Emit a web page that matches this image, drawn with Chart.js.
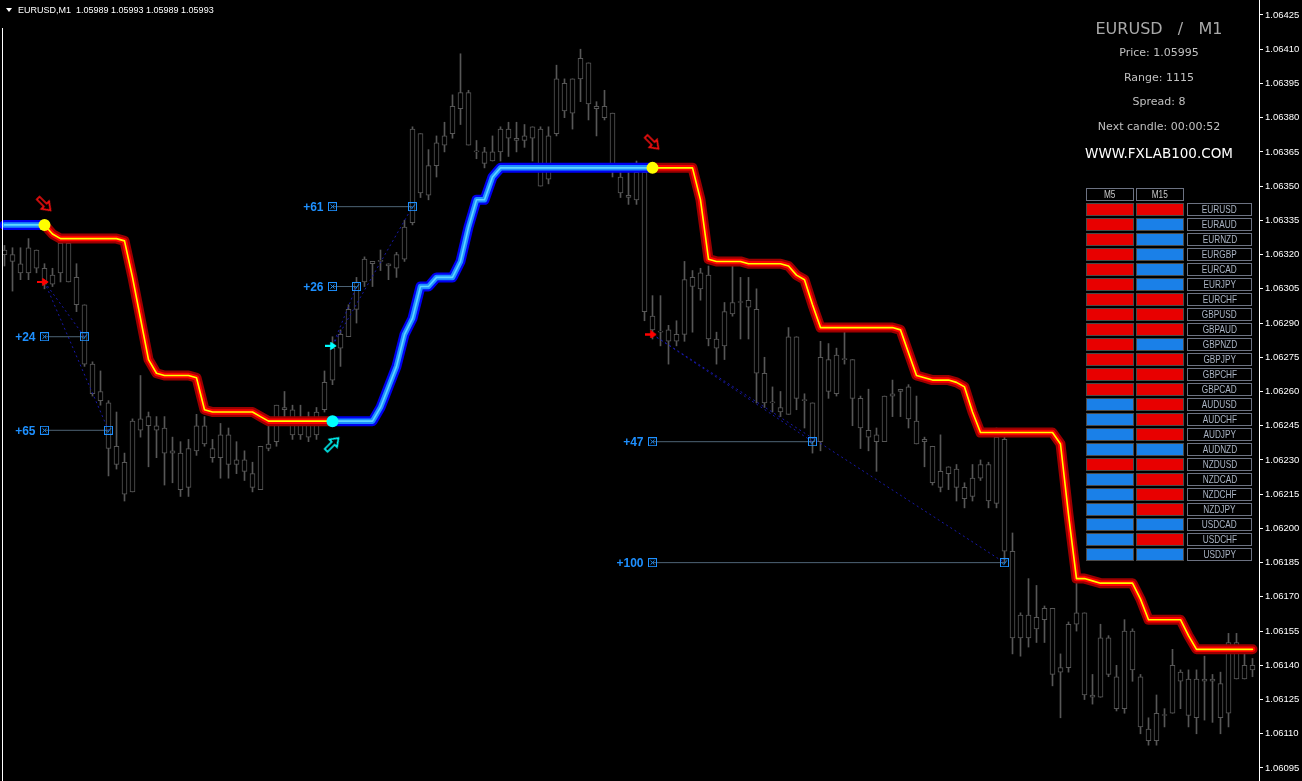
<!DOCTYPE html>
<html>
<head>
<meta charset="utf-8">
<title>EURUSD M1</title>
<script src="https://cdn.jsdelivr.net/npm/chart.js@4/dist/chart.umd.min.js"></script>
<style>
  html, body { margin: 0; padding: 0; background: #000; }
  #wrap { position: relative; width: 1302px; height: 781px; overflow: hidden; background: #000; }
  #chart { position: absolute; left: 0; top: 0; background: #000; }
  .abs { position: absolute; white-space: pre; }
  #hdr { left: 18px; top: 4px; font: 9px "Liberation Sans", Arial, sans-serif; color: #fff; line-height: 12px; }
  #tri { left: 6px; top: 8px; width: 0; height: 0; border-left: 3px solid transparent; border-right: 3px solid transparent; border-top: 4px solid #fff; }
  #leftEdge { left: 2px; top: 28px; width: 1px; height: 753px; background: #fff; }
  .info { left: 1059px; width: 200px; text-align: center; font-family: "DejaVu Sans", sans-serif; }
  .cell { position: absolute; box-sizing: border-box; height: 13px; }
  .lab { border: 1px solid #6c7282; background: #000; color: #aab4c4; text-align: center; overflow: hidden; line-height: 11px; }
  .lab span { display: inline-block; vertical-align: top; }
</style>
</head>
<body>
<div id="wrap">
  <canvas id="chart" width="1302" height="781"></canvas>
  <div id="tri" class="abs"></div>
  <div id="hdr" class="abs">EURUSD,M1  1.05989 1.05993 1.05989 1.05993</div>
  <div id="leftEdge" class="abs"></div>
  <div class="abs info" style="top:19px;font-size:16px;line-height:20px;color:#a9a9a9;">EURUSD   /   M1</div>
  <div class="abs info" style="top:46px;font-size:11px;line-height:14px;color:#c0c0c0;">Price: 1.05995</div>
  <div class="abs info" style="top:71px;font-size:11px;line-height:14px;color:#c0c0c0;">Range: 1115</div>
  <div class="abs info" style="top:95px;font-size:11px;line-height:14px;color:#c0c0c0;">Spread: 8</div>
  <div class="abs info" style="top:120px;font-size:11px;line-height:14px;color:#c0c0c0;">Next candle: 00:00:52</div>
  <div class="abs info" style="top:145px;font-size:13.5px;line-height:16px;color:#ffffff;">WWW.FXLAB100.COM</div>
  <div id="table"></div>
</div>
<script>
// price ticks on the right axis
const priceTicks = [1.06095, 1.06110, 1.06125, 1.06140, 1.06155, 1.06170, 1.06185, 1.06200, 1.06215,
  1.06230, 1.06245, 1.06260, 1.06275, 1.06290, 1.06305, 1.06320, 1.06335, 1.06350, 1.06365,
  1.06380, 1.06395, 1.06410, 1.06425];

// M1 candles, oldest first
const opens = [1.06322,1.06317,1.06316,1.06312,1.06322,1.06314,1.06307,1.06312,1.06325,1.06310,
  1.06298,1.06272,1.06260,1.06255,1.06228,1.06229,1.06216,1.06248,1.06245,1.06245,
  1.06244,1.06233,1.06233,1.06218,1.06234,1.06245,1.06235,1.06231,1.06241,1.06228,
  1.06230,1.06224,1.06217,1.06235,1.06238,1.06253,1.06252,1.06241,1.06248,1.06241,
  1.06252,1.06265,1.06279,1.06284,1.06296,1.06308,1.06317,1.06317,1.06316,1.06314,
  1.06318,1.06334,1.06373,1.06346,1.06359,1.06368,1.06373,1.06384,1.06391,1.06365,
  1.06365,1.06361,1.06365,1.06375,1.06371,1.06370,1.06371,1.06375,1.06353,1.06373,
  1.06395,1.06382,1.06397,1.06404,1.06385,1.06380,1.06382,1.06354,1.06346,1.06344,
  1.06356,1.06293,1.06286,1.06282,1.06285,1.06285,1.06306,1.06312,1.06311,1.06283,
  1.06280,1.06294,1.06299,1.06297,1.06296,1.06268,1.06255,1.06253,1.06250,1.06284,
  1.06256,1.06255,1.06238,1.06274,1.06259,1.06274,1.06274,1.06257,1.06243,1.06241,
  1.06238,1.06258,1.06260,1.06262,1.06247,1.06238,1.06236,1.06218,1.06224,1.06226,
  1.06218,1.06214,1.06222,1.06228,1.06211,1.06239,1.06190,1.06152,1.06162,1.06156,
  1.06160,1.06165,1.06137,1.06139,1.06158,1.06163,1.06127,1.06126,1.06152,1.06135,
  1.06121,1.06155,1.06135,1.06112,1.06107,1.06118,1.06119,1.06137,1.06134,1.06117,
  1.06134,1.06133,1.06132,1.06119,1.06150,1.06134,1.06140];
const highs = [1.06324,1.06323,1.06323,1.06327,1.06322,1.06316,1.06314,1.06326,1.06326,1.06316,
  1.06298,1.06273,1.06269,1.06256,1.06251,1.06233,1.06248,1.06267,1.06251,1.06249,
  1.06249,1.06240,1.06238,1.06239,1.06250,1.06249,1.06239,1.06246,1.06244,1.06238,
  1.06234,1.06229,1.06236,1.06245,1.06254,1.06260,1.06254,1.06254,1.06251,1.06253,
  1.06269,1.06284,1.06287,1.06298,1.06310,1.06319,1.06317,1.06322,1.06316,1.06321,
  1.06335,1.06376,1.06373,1.06366,1.06372,1.06378,1.06390,1.06408,1.06392,1.06370,
  1.06367,1.06372,1.06376,1.06378,1.06378,1.06377,1.06376,1.06376,1.06376,1.06403,
  1.06397,1.06397,1.06410,1.06404,1.06387,1.06392,1.06382,1.06356,1.06356,1.06361,
  1.06356,1.06302,1.06302,1.06289,1.06291,1.06317,1.06313,1.06314,1.06315,1.06286,
  1.06299,1.06315,1.06310,1.06310,1.06305,1.06275,1.06262,1.06260,1.06288,1.06284,
  1.06259,1.06255,1.06282,1.06281,1.06279,1.06286,1.06274,1.06258,1.06261,1.06244,
  1.06258,1.06265,1.06261,1.06263,1.06258,1.06240,1.06236,1.06241,1.06227,1.06228,
  1.06220,1.06228,1.06230,1.06229,1.06244,1.06243,1.06198,1.06163,1.06178,1.06175,
  1.06166,1.06165,1.06145,1.06159,1.06176,1.06163,1.06136,1.06158,1.06153,1.06140,
  1.06160,1.06156,1.06136,1.06117,1.06127,1.06121,1.06147,1.06138,1.06138,1.06138,
  1.06144,1.06136,1.06137,1.06154,1.06154,1.06145,1.06143];
const lows = [1.06315,1.06304,1.06309,1.06309,1.06312,1.06305,1.06306,1.06308,1.06308,1.06295,
  1.06271,1.06258,1.06254,1.06223,1.06226,1.06212,1.06216,1.06240,1.06227,1.06231,
  1.06219,1.06220,1.06214,1.06214,1.06232,1.06236,1.06229,1.06222,1.06222,1.06224,
  1.06221,1.06216,1.06217,1.06234,1.06236,1.06247,1.06239,1.06239,1.06238,1.06239,
  1.06251,1.06263,1.06271,1.06284,1.06290,1.06306,1.06306,1.06313,1.06309,1.06310,
  1.06317,1.06333,1.06345,1.06344,1.06354,1.06365,1.06371,1.06377,1.06368,1.06362,
  1.06358,1.06361,1.06361,1.06363,1.06365,1.06367,1.06361,1.06350,1.06351,1.06372,
  1.06380,1.06375,1.06387,1.06379,1.06372,1.06379,1.06354,1.06345,1.06342,1.06342,
  1.06291,1.06283,1.06280,1.06272,1.06280,1.06282,1.06286,1.06300,1.06280,1.06272,
  1.06274,1.06293,1.06283,1.06283,1.06255,1.06253,1.06251,1.06249,1.06250,1.06252,
  1.06244,1.06233,1.06234,1.06257,1.06258,1.06272,1.06245,1.06235,1.06234,1.06225,
  1.06238,1.06249,1.06249,1.06244,1.06237,1.06227,1.06219,1.06216,1.06217,1.06212,
  1.06209,1.06212,1.06221,1.06209,1.06209,1.06185,1.06145,1.06144,1.06148,1.06150,
  1.06150,1.06131,1.06117,1.06137,1.06155,1.06125,1.06123,1.06126,1.06135,1.06120,
  1.06119,1.06133,1.06110,1.06105,1.06105,1.06113,1.06119,1.06121,1.06113,1.06110,
  1.06116,1.06115,1.06110,1.06113,1.06134,1.06134,1.06135];
const closes = [1.06320,1.06320,1.06312,1.06323,1.06314,1.06307,1.06311,1.06325,1.06308,1.06298,
  1.06272,1.06259,1.06256,1.06235,1.06236,1.06215,1.06247,1.06243,1.06249,1.06243,
  1.06233,1.06234,1.06217,1.06235,1.06245,1.06237,1.06231,1.06241,1.06228,1.06230,
  1.06225,1.06218,1.06236,1.06237,1.06254,1.06252,1.06241,1.06248,1.06240,1.06251,
  1.06264,1.06279,1.06285,1.06296,1.06308,1.06318,1.06316,1.06317,1.06315,1.06320,
  1.06332,1.06375,1.06347,1.06359,1.06369,1.06372,1.06385,1.06391,1.06368,1.06365,
  1.06360,1.06365,1.06375,1.06371,1.06370,1.06372,1.06376,1.06350,1.06372,1.06397,
  1.06383,1.06397,1.06406,1.06386,1.06384,1.06385,1.06359,1.06347,1.06345,1.06356,
  1.06295,1.06287,1.06286,1.06287,1.06282,1.06309,1.06310,1.06305,1.06283,1.06279,
  1.06295,1.06299,1.06299,1.06300,1.06268,1.06255,1.06255,1.06251,1.06284,1.06257,
  1.06256,1.06238,1.06275,1.06260,1.06276,1.06274,1.06257,1.06244,1.06240,1.06238,
  1.06258,1.06259,1.06261,1.06248,1.06237,1.06239,1.06220,1.06225,1.06227,1.06218,
  1.06213,1.06222,1.06228,1.06212,1.06240,1.06190,1.06152,1.06162,1.06152,1.06161,
  1.06165,1.06136,1.06139,1.06158,1.06163,1.06127,1.06126,1.06152,1.06136,1.06121,
  1.06155,1.06138,1.06113,1.06107,1.06119,1.06118,1.06140,1.06133,1.06118,1.06134,
  1.06133,1.06134,1.06117,1.06150,1.06134,1.06140,1.06138];

// trend line (blue = up, red = down)
const trendLine = [1.06333,1.06333,1.06333,1.06333,1.06333,1.06333,1.06329,1.06327,1.06327,1.06327,
  1.06327,1.06327,1.06327,1.06327,1.06327,1.06326,1.06310,1.06292,1.06274,1.06268,
  1.06267,1.06267,1.06267,1.06267,1.06266,1.06252,1.06251,1.06251,1.06251,1.06251,
  1.06251,1.06251,1.06249,1.06247,1.06247,1.06247,1.06247,1.06247,1.06247,1.06247,
  1.06247,1.06247,1.06247,1.06247,1.06247,1.06247,1.06247,1.06253,1.06262,1.06271,
  1.06285,1.06292,1.06306,1.06306,1.06310,1.06310,1.06310,1.06317,1.06332,1.06344,
  1.06344,1.06354,1.06358,1.06358,1.06358,1.06358,1.06358,1.06358,1.06358,1.06358,
  1.06358,1.06358,1.06358,1.06358,1.06358,1.06358,1.06358,1.06358,1.06358,1.06358,
  1.06358,1.06358,1.06358,1.06358,1.06358,1.06358,1.06358,1.06344,1.06318,1.06317,
  1.06317,1.06317,1.06317,1.06316,1.06316,1.06316,1.06316,1.06316,1.06315,1.06311,
  1.06309,1.06298,1.06288,1.06288,1.06288,1.06288,1.06288,1.06288,1.06288,1.06288,
  1.06288,1.06288,1.06287,1.06277,1.06267,1.06266,1.06265,1.06265,1.06265,1.06264,
  1.06262,1.06251,1.06242,1.06242,1.06242,1.06242,1.06242,1.06242,1.06242,1.06242,
  1.06242,1.06242,1.06237,1.06206,1.06178,1.06178,1.06177,1.06176,1.06176,1.06176,
  1.06176,1.06176,1.06169,1.06160,1.06160,1.06160,1.06160,1.06160,1.06153,1.06147,
  1.06147,1.06147,1.06147,1.06147,1.06147,1.06147,1.06147];
const firstTrend = 'up';
const trendFlips = [5, 41, 81];

// signal arrows above / below the flips
const sellArrowK = [5, 81];
const sellArrowPrice = [1.06342, 1.06369];
const buyArrowK = [41];
const buyArrowPrice = [1.06237];

// trades: entry candle, entry price, candle where target hit, target price, pips
const tradeEntryK = [5, 5, 41, 41, 81, 81];
const tradeEntryPrice = [1.06308, 1.06308, 1.06280, 1.06280, 1.06285, 1.06285];
const tradeSide = ['sell', 'sell', 'buy', 'buy', 'sell', 'sell'];
const tradeHitK = [10, 13, 44, 51, 101, 125];
const tradeTarget = [1.06284, 1.06243, 1.06306, 1.06341, 1.06238, 1.06185];
const tradePips = [24, 65, 26, 61, 47, 100];

// dashboard
const pairs = ['EURUSD','EURAUD','EURNZD','EURGBP','EURCAD','EURJPY','EURCHF','GBPUSD','GBPAUD',
  'GBPNZD','GBPJPY','GBPCHF','GBPCAD','AUDUSD','AUDCHF','AUDJPY','AUDNZD','NZDUSD','NZDCAD',
  'NZDCHF','NZDJPY','USDCAD','USDCHF','USDJPY'];
const m5State  = ['R','R','R','R','R','R','R','R','R','R','R','R','R','B','B','B','B','R','B','B','B','B','B','B'];
const m15State = ['R','B','B','B','B','B','R','R','R','B','R','R','R','R','R','R','B','R','R','R','R','B','R','B'];

// ---------------------------------------------------------------
const plotRight = 1259;
const xMin = -0.5625;
const xMax = xMin + plotRight / 8;
const yMax = 1.0643157;
const yMin = 1.060893;

// narrow font check
function hasFont(name) {
  const g = document.createElement('canvas').getContext('2d');
  g.font = '20px monospace';
  const a = g.measureText('1.06425 EURUSD').width;
  g.font = '20px "' + name + '", monospace';
  return g.measureText('1.06425 EURUSD').width !== a;
}
const narrow = hasFont('Liberation Sans Narrow');

// dashboard table
const RED = '#e80000', BLUE = '#1a80e8';
const table = document.getElementById('table');
function addCell(left, top, width, cls, bg, text) {
  const d = document.createElement('div');
  d.className = 'cell ' + cls;
  d.style.left = left + 'px';
  d.style.top = top + 'px';
  d.style.width = width + 'px';
  if (bg) { d.style.background = bg; d.style.border = '1px solid #4a4a4a'; }
  if (text) {
    const s = document.createElement('span');
    s.textContent = text;
    if (narrow) {
      s.style.font = '11px/11px "Liberation Sans Narrow", sans-serif';
    } else {
      s.style.font = '11px/11px "Liberation Sans", Arial, sans-serif';
      s.style.transform = 'scaleX(0.75)';
    }
    d.appendChild(s);
  }
  table.appendChild(d);
}
addCell(1086, 188, 48, 'lab', null, 'M5');
addCell(1136, 188, 48, 'lab', null, 'M15');
table.lastChild.style.color = table.firstChild.style.color = '#c8c8c8';
pairs.forEach((p, i) => {
  const top = 203 + i * 15;
  addCell(1086, top, 48, '', m5State[i] === 'R' ? RED : BLUE, null);
  addCell(1136, top, 48, '', m15State[i] === 'R' ? RED : BLUE, null);
  addCell(1187, top, 65, 'lab', null, p);
});

// point images
function makeCanvas(w, h, draw) {
  const c = document.createElement('canvas');
  c.width = w; c.height = h;
  draw(c.getContext('2d'));
  return c;
}
function box(check) {
  return makeCanvas(9, 9, g => {
    g.strokeStyle = '#1e90ff'; g.lineWidth = 1;
    g.strokeRect(0.5, 0.5, 8, 8);
    g.beginPath();
    if (check) { g.moveTo(2, 4.5); g.lineTo(3.8, 6.5); g.lineTo(7, 2.2); }
    else { g.moveTo(2.5, 2.5); g.lineTo(6.5, 6.5); g.moveTo(6.5, 2.5); g.lineTo(2.5, 6.5); }
    g.stroke();
  });
}
function hollowArrow(color) {
  return makeCanvas(22, 22, g => {
    g.strokeStyle = color; g.lineWidth = 1.6;
    g.beginPath();
    g.moveTo(2, 9); g.lineTo(12, 9); g.lineTo(12, 5.5); g.lineTo(19.5, 11);
    g.lineTo(12, 16.5); g.lineTo(12, 13); g.lineTo(2, 13); g.closePath();
    g.stroke();
  });
}
function entryArrow(color) {
  return makeCanvas(12, 8, g => {
    g.fillStyle = color;
    g.fillRect(0, 3, 7, 2);
    g.beginPath(); g.moveTo(5.5, 0); g.lineTo(11.5, 4); g.lineTo(5.5, 8); g.closePath(); g.fill();
  });
}
const boxX = box(false), boxV = box(true);
const redHollow = hollowArrow('#ff1010'), cyanHollow = hollowArrow('#00ffff');
const redEntry = entryArrow('#ff0000'), cyanEntry = entryArrow('#00ffff');

// datasets
const candleIndex = opens.map((_, k) => k);
const wickData = candleIndex.map(k => ({ x: k, y: [lows[k], highs[k]] }));
const bodyData = candleIndex.map(k => ({ x: k, y: [Math.min(opens[k], closes[k]), Math.max(opens[k], closes[k])] }));

function trendAt(k) {
  let t = firstTrend;
  trendFlips.forEach(f => { if (k >= f) t = (t === 'up' ? 'dn' : 'up'); });
  return t;
}
function trendPart(dir) {
  return candleIndex.map(k => ({
    x: k,
    y: (trendAt(k) === dir || (k > 0 && trendAt(k - 1) === dir)) ? trendLine[k] : null
  }));
}
const upData = trendPart('up');
const dnData = trendPart('dn');

function glow(data, color, width, order) {
  return { type: 'line', data, borderColor: color, borderWidth: width, pointRadius: 0,
    tension: 0, borderJoinStyle: 'round', borderCapStyle: 'round', spanGaps: false, order };
}
function marks(data, style, rotation, order, color) {
  return { type: 'line', data, showLine: false, pointStyle: style, pointRadius: style === 'circle' ? 6 : 4,
    pointRotation: rotation || 0, pointBackgroundColor: color || '#000', pointBorderWidth: 0, order };
}

const datasets = [
  { type: 'bar', data: wickData, backgroundColor: '#575757', borderWidth: 0, barThickness: 1,
    grouped: false, order: 20 },
  { type: 'bar', data: bodyData, backgroundColor: '#000', borderColor: '#575757', borderWidth: 1,
    borderSkipped: false, barThickness: 5, minBarLength: 1, grouped: false, order: 19 },
  glow(dnData, '#9b0000', 10, 12), glow(dnData, '#ff0000', 5.5, 11), glow(dnData, '#ffff00', 1.6, 10),
  glow(upData, '#0000f0', 10, 12), glow(upData, '#1e8fff', 5.5, 11), glow(upData, '#5fd6ff', 1.6, 10)
];

tradeEntryK.forEach((k, i) => {
  datasets.push({ type: 'line', data: [{ x: k, y: tradeTarget[i] }, { x: tradeHitK[i], y: tradeTarget[i] }],
    borderColor: '#4e6476', borderWidth: 1, pointRadius: 0, order: 15 });
  datasets.push({ type: 'line', data: [{ x: k, y: tradeEntryPrice[i] }, { x: tradeHitK[i], y: tradeTarget[i] }],
    borderColor: '#1818a8', borderWidth: 1, borderDash: [2, 3], pointRadius: 0, order: 14 });
});

const sellFlips = trendFlips.filter(k => trendAt(k) === 'dn');
const buyFlips = trendFlips.filter(k => trendAt(k) === 'up');
datasets.push(marks(sellFlips.map(k => ({ x: k, y: trendLine[k] })), 'circle', 0, 5, '#ffff00'));
datasets.push(marks(buyFlips.map(k => ({ x: k, y: trendLine[k] })), 'circle', 0, 5, '#00ffff'));
datasets.push(marks(sellArrowK.map((k, i) => ({ x: k, y: sellArrowPrice[i] })), redHollow, 45, 4));
datasets.push(marks(buyArrowK.map((k, i) => ({ x: k, y: buyArrowPrice[i] })), cyanHollow, -45, 4));
const sellEntries = tradeEntryK.map((k, i) => ({ x: k, y: tradeSide[i] === 'sell' ? tradeEntryPrice[i] : null }));
const buyEntries = tradeEntryK.map((k, i) => ({ x: k, y: tradeSide[i] === 'buy' ? tradeEntryPrice[i] : null }));
datasets.push(marks(sellEntries.map(p => ({ x: p.x - 0.2, y: p.y })), redEntry, 0, 3));
datasets.push(marks(buyEntries.map(p => ({ x: p.x - 0.2, y: p.y })), cyanEntry, 0, 3));
datasets.push(marks(tradeEntryK.map((k, i) => ({ x: k, y: tradeTarget[i] })), boxX, 0, 2));
datasets.push(marks(tradeHitK.map((k, i) => ({ x: k, y: tradeTarget[i] })), boxV, 0, 2));

const tradeLabels = {
  id: 'tradeLabels',
  afterDatasetsDraw(chart) {
    const { ctx, scales: { x, y } } = chart;
    ctx.save();
    ctx.font = 'bold 12px "Liberation Sans", Arial, sans-serif';
    ctx.fillStyle = '#1e90ff';
    ctx.textAlign = 'right';
    ctx.textBaseline = 'middle';
    tradePips.forEach((p, i) => {
      ctx.fillText('+' + p, x.getPixelForValue(tradeEntryK[i]) - 9, y.getPixelForValue(tradeTarget[i]) + 1);
    });
    ctx.restore();
  }
};

new Chart(document.getElementById('chart').getContext('2d'), {
  type: 'bar',
  data: { datasets },
  plugins: [tradeLabels],
  options: {
    responsive: false,
    animation: false,
    events: [],
    layout: { padding: 0, autoPadding: false },
    plugins: { legend: { display: false }, tooltip: { enabled: false } },
    scales: {
      x: { type: 'linear', display: false, min: xMin, max: xMax, offset: false, grid: { display: false } },
      y: {
        type: 'linear', position: 'right', min: yMin, max: yMax, beginAtZero: false,
        grid: { drawOnChartArea: false, drawTicks: true, tickLength: 4, tickColor: '#ffffff', color: '#ffffff' },
        border: { display: true, color: '#ffffff', width: 1 },
        ticks: {
          color: '#ffffff', padding: 2, autoSkip: false,
          font: narrow ? { family: 'Liberation Sans Narrow', size: 11 } : { family: 'Liberation Sans', size: 9.5 },
          callback: v => Number(v).toFixed(5)
        },
        afterBuildTicks: s => { s.ticks = priceTicks.map(v => ({ value: v })); },
        afterFit: s => { s.width = 1302 - plotRight; s.paddingTop = 0; s.paddingBottom = 0; }
      }
    }
  }
});
</script>
</body>
</html>
